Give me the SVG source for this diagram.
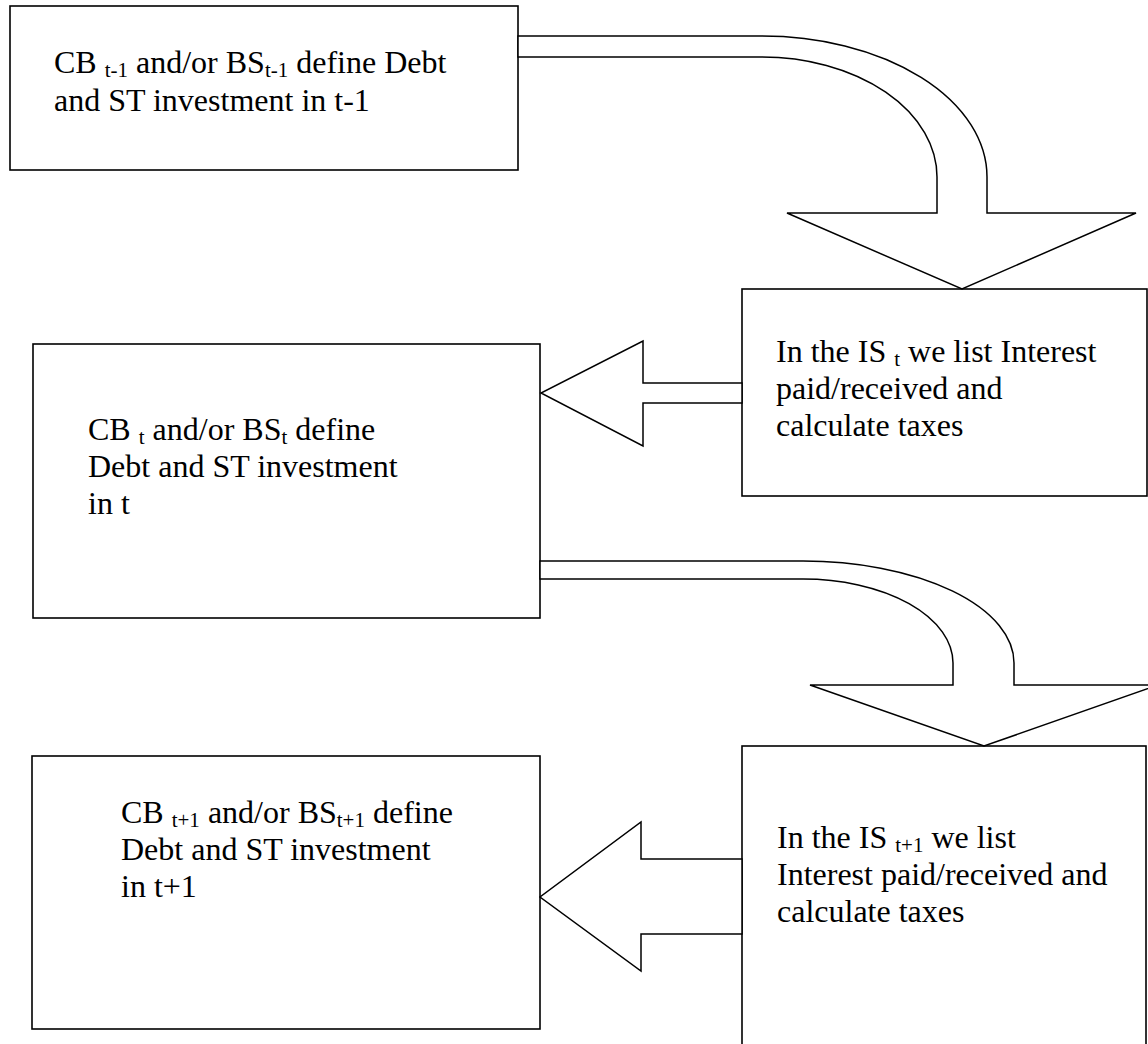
<svg xmlns="http://www.w3.org/2000/svg" width="1148" height="1044" viewBox="0 0 1148 1044">
<style>
.box{fill:#fff;stroke:#000;stroke-width:1.6}
.arr{fill:#fff;stroke:#000;stroke-width:1.5;stroke-linejoin:miter}
text{font-family:"Liberation Serif","Times New Roman",serif;font-size:32px;fill:#000}
.sub{font-size:21px}
</style>
<rect width="1148" height="1044" fill="#fff"/>
<g id="node-cb-t-1">
<rect class="box" x="10" y="6" width="508" height="164"/>
<text x="54" y="73">CB <tspan class="sub" dy="4">t-1</tspan><tspan dy="-4"> and/or BS</tspan><tspan class="sub" dy="4">t-1</tspan><tspan dy="-4"> define Debt</tspan></text>
<text x="54" y="111">and ST investment in t-1</text>
</g>
<g id="node-is-t">
<rect class="box" x="742" y="289" width="405" height="207"/>
<text x="776" y="362">In the IS <tspan class="sub" dy="4">t</tspan><tspan dy="-4"> we list Interest</tspan></text>
<text x="776" y="399">paid/received and</text>
<text x="776" y="436">calculate taxes</text>
</g>
<g id="node-cb-t">
<rect class="box" x="33" y="344" width="507" height="274"/>
<text x="88" y="440">CB <tspan class="sub" dy="4">t</tspan><tspan dy="-4"> and/or BS</tspan><tspan class="sub" dy="4">t</tspan><tspan dy="-4"> define</tspan></text>
<text x="88" y="477">Debt and ST investment</text>
<text x="88" y="514">in t</text>
</g>
<g id="node-is-t1">
<rect class="box" x="742" y="746" width="404" height="330"/>
<text x="777" y="848">In the IS <tspan class="sub" dy="4">t+1</tspan><tspan dy="-4"> we list</tspan></text>
<text x="777" y="885">Interest paid/received and</text>
<text x="777" y="922">calculate taxes</text>
</g>
<g id="node-cb-t1">
<rect class="box" x="32" y="756" width="508" height="273"/>
<text x="121" y="823">CB <tspan class="sub" dy="4">t+1</tspan><tspan dy="-4"> and/or BS</tspan><tspan class="sub" dy="4">t+1</tspan><tspan dy="-4"> define</tspan></text>
<text x="121" y="860">Debt and ST investment</text>
<text x="121" y="897">in t+1</text>
</g>
<g id="connectors">
<path class="arr" d="M 518 36 H 762 A 225 141 0 0 1 987 177 V 213 H 1136 L 962 289 L 787 213 H 937 V 177 A 175 120 0 0 0 762 57 H 518 Z"/>
<path class="arr" d="M 742 383 H 643 V 341 L 541 393 L 643 446 V 403 H 742 Z"/>
<path class="arr" d="M 540 561 H 803 A 211 102 0 0 1 1014 663 V 685 H 1158 L 984 746 L 810 685 H 953 V 663 A 150 84 0 0 0 803 579 H 540 Z"/>
<path class="arr" d="M 742 859 H 641 V 822 L 540 897 L 641 971 V 934 H 742 Z"/>
</g>
</svg>
